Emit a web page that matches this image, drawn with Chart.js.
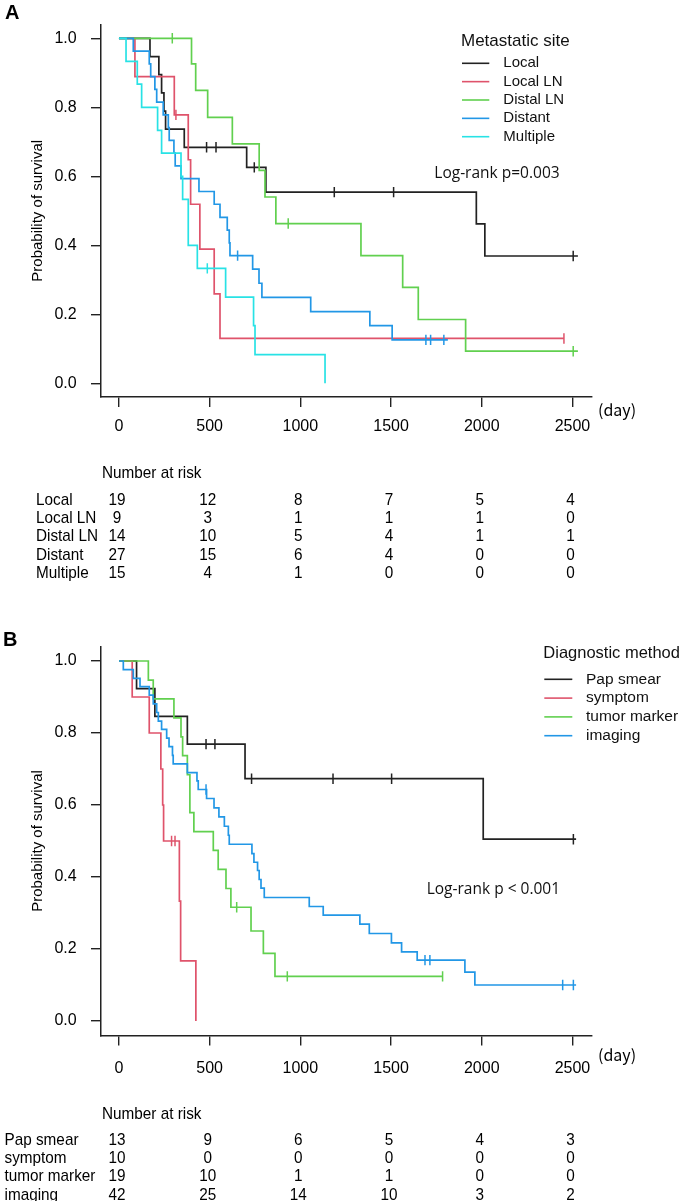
<!DOCTYPE html>
<html>
<head>
<meta charset="utf-8">
<script src="https://cdn.jsdelivr.net/npm/chart.js@4.4.0/dist/chart.umd.min.js"></script>
<style>
  html, body { margin: 0; padding: 0; background: #fff; }
  #wrap { position: relative; width: 685px; height: 1201px; overflow: hidden; }
  canvas { position: absolute; left: 0; }
  #cA { top: 0; }
  #cB { top: 600px; }
</style>
</head>
<body>
<div id="wrap">
  <canvas id="cA" width="685" height="600"></canvas>
  <canvas id="cB" width="685" height="601"></canvas>
</div>
<script>
// ---------------- DATA ----------------
const xTicks = [0, 500, 1000, 1500, 2000, 2500];
const yTicks = [0, 0.2, 0.4, 0.6, 0.8, 1.0];
const riskTimes = [0, 500, 1000, 1500, 2000, 2500];

// Panel A: Metastatic site
const groupsA = ['Local', 'Local LN', 'Distal LN', 'Distant', 'Multiple'];
const localTime   = [0, 171, 220, 235, 248, 257, 360, 704, 810, 1970, 2017, 2530];
const localSurv   = [1, 0.947, 0.895, 0.842, 0.789, 0.737, 0.684, 0.626, 0.554, 0.462, 0.369, 0.369];
const localCensor = [483, 535, 746, 1187, 1514, 2504];

const localLNTime   = [0, 88, 305, 382, 395, 446, 525, 557, 2453];
const localLNSurv   = [1, 0.889, 0.778, 0.648, 0.519, 0.389, 0.259, 0.130, 0.130];
const localLNCensor = [314, 2453];

const distalLNTime   = [0, 400, 423, 489, 625, 773, 805, 865, 1334, 1564, 1650, 1911, 2530];
const distalLNSurv   = [1, 0.926, 0.849, 0.771, 0.694, 0.617, 0.540, 0.463, 0.370, 0.278, 0.185, 0.093, 0.093];
const distalLNCensor = [294, 933, 2504];

const distantTime   = [0, 79, 167, 175, 198, 208, 244, 272, 277, 303, 310, 342, 441, 525, 557, 597, 608, 612, 737, 772, 788, 1057, 1383, 1506, 1813];
const distantSurv   = [1, 0.963, 0.926, 0.889, 0.852, 0.815, 0.778, 0.741, 0.704, 0.667, 0.630, 0.593, 0.556, 0.519, 0.481, 0.444, 0.407, 0.370, 0.331, 0.290, 0.249, 0.208, 0.167, 0.126, 0.126];
const distantCensor = [654, 1692, 1718, 1791];

const multipleTime   = [0, 39, 101, 125, 213, 235, 342, 351, 382, 432, 588, 742, 750, 1136];
const multipleSurv   = [1, 0.933, 0.867, 0.8, 0.733, 0.667, 0.6, 0.533, 0.4, 0.333, 0.25, 0.167, 0.083, 0];
const multipleCensor = [487];

const riskLocal    = [19, 12, 8, 7, 5, 4];
const riskLocalLN  = [9, 3, 1, 1, 1, 0];
const riskDistalLN = [14, 10, 5, 4, 1, 1];
const riskDistant  = [27, 15, 6, 4, 0, 0];
const riskMultiple = [15, 4, 1, 0, 0, 0];

// Panel B: Diagnostic method
const groupsB = ['Pap smear', 'symptom', 'tumor marker', 'imaging'];
const papTime   = [0, 97, 198, 377, 695, 2008, 2520];
const papSurv   = [1, 0.923, 0.846, 0.769, 0.673, 0.505, 0.505];
const papCensor = [480, 529, 731, 1180, 1503, 2505];

const symptomTime   = [0, 73, 167, 231, 241, 246, 333, 340, 424];
const symptomSurv   = [1, 0.9, 0.8, 0.7, 0.6, 0.5, 0.333, 0.167, 0];
const symptomCensor = [290, 309];

const tumorTime   = [0, 162, 189, 303, 342, 351, 377, 391, 413, 520, 547, 590, 617, 728, 796, 860, 1784];
const tumorSurv   = [1, 0.947, 0.895, 0.842, 0.789, 0.737, 0.684, 0.579, 0.526, 0.474, 0.421, 0.368, 0.316, 0.250, 0.188, 0.124, 0.124];
const tumorCensor = [649, 928, 1784];

const imagingTime = [0, 24, 79, 116, 167, 189, 208, 217, 235, 263, 276, 295, 299, 377, 430, 437, 483, 524, 551, 581, 603, 608, 733, 744, 764, 773, 783, 801, 1049, 1126, 1328, 1380, 1502, 1558, 1644, 1907, 1962, 2520];
const imagingSurv = [1, 0.976, 0.952, 0.929, 0.905, 0.881, 0.857, 0.833, 0.810, 0.786, 0.762, 0.738, 0.714, 0.690, 0.667, 0.643, 0.618, 0.592, 0.567, 0.541, 0.516, 0.491, 0.465, 0.441, 0.418, 0.393, 0.369, 0.343, 0.318, 0.294, 0.269, 0.243, 0.217, 0.192, 0.169, 0.136, 0.100, 0.100];
const imagingCensor = [480, 1687, 1714, 2446, 2505];

const riskPap     = [13, 9, 6, 5, 4, 3];
const riskSymptom = [10, 0, 0, 0, 0, 0];
const riskTumor   = [19, 10, 1, 1, 0, 0];
const riskImaging = [42, 25, 14, 10, 3, 2];

// ---------------- STYLE ----------------
const RCOL = ['#222222', '#DF536B', '#61D04F', '#2297E6', '#28E2E5'];
const SANS = "'Liberation Sans',Arial,Helvetica,sans-serif";

function survAt(times, surv, t) {
  let v = surv[0];
  for (let i = 0; i < times.length; i++) { if (times[i] <= t) v = surv[i]; }
  return v;
}

function buildDatasets(series) {
  const ds = [];
  series.forEach((s, i) => {
    ds.push({
      type: 'line',
      data: s.time.map((t, k) => ({ x: t, y: s.surv[k] })),
      borderColor: s.color, borderWidth: 1.7, pointRadius: 0,
      stepped: 'before', fill: false, order: 100 - i * 2
    });
  });
  series.forEach((s, i) => {
    ds.push({
      type: 'scatter',
      data: s.censor.map(c => ({ x: c, y: survAt(s.time, s.surv, c) })),
      borderColor: s.color, backgroundColor: s.color, borderWidth: 1.5,
      pointStyle: 'line', rotation: 90, pointRadius: 5.2, pointHoverRadius: 5.2,
      showLine: false, order: 10 - i
    });
  });
  return ds;
}

// condensed text (the reference uses a narrow sans)
function condText(ctx, str, x, y, align) {
  ctx.save();
  ctx.translate(x, y);
  ctx.scale(0.9, 1);
  ctx.textAlign = align;
  ctx.fillText(str, 0, 0);
  ctx.restore();
}

const textPlugin = {
  id: 'panelText',
  afterDraw(chart) {
    const p = chart.options.plugins.panelText;
    const ctx = chart.ctx, xs = chart.scales.x, ys = chart.scales.y;
    ctx.save();
    ctx.fillStyle = '#000';
    ctx.textBaseline = 'middle';
    // panel letter
    ctx.font = 'bold 20px ' + SANS;
    ctx.textAlign = 'left';
    ctx.fillText(p.letter, p.letterX, p.letterY);
    // y title
    ctx.save();
    ctx.translate(37.5, (ys.top + ys.bottom) / 2);
    ctx.rotate(-Math.PI / 2);
    ctx.font = '15px ' + SANS;
    ctx.textAlign = 'center';
    ctx.fillText('Probability of survival', 0, 0);
    ctx.restore();
    // (day)
    ctx.font = "16px 'Noto Sans CJK JP'," + SANS;
    ctx.textAlign = 'left';
    ctx.fillText('(day)', 598, p.dayY);
    // legend
    ctx.fillStyle = '#111';
    ctx.font = p.legTitleSize + 'px ' + SANS;
    ctx.fillText(p.legTitle, p.legX, p.legTitleY);
    ctx.font = p.legSize + 'px ' + SANS;
    p.groups.forEach((g, i) => {
      const y = p.legRowY + i * p.legRowH;
      ctx.strokeStyle = RCOL[i]; ctx.lineWidth = 1.6;
      ctx.beginPath(); ctx.moveTo(p.legX + 1, y); ctx.lineTo(p.legLineEnd, y); ctx.stroke();
      ctx.fillText(g, p.legTextX, y);
    });
    // log-rank
    ctx.font = "15.5px 'Open Sans','Noto Sans'," + SANS;
    ctx.fillStyle = '#111';
    ctx.fillText(p.logrank, p.lrX, p.lrY);
    // number at risk table
    ctx.fillStyle = '#000';
    ctx.font = '17px ' + SANS;
    condText(ctx, 'Number at risk', 102, p.tabTitleY, 'left');
    p.groups.forEach((g, i) => {
      const y = p.tabRowY + i * 18.35;
      condText(ctx, g, p.tabLabelX, y, 'left');
      p.risk[i].forEach((n, k) => {
        condText(ctx, String(n), xs.getPixelForValue(riskTimes[k]) - 2, y, 'center');
      });
    });
    ctx.restore();
  }
};

function makeChart(id, series, cfg) {
  const canvasH = cfg.canvasH;
  const top = cfg.areaTop, bottom = cfg.areaBottom;
  const xH = 40;
  return new Chart(document.getElementById(id), {
    data: { datasets: buildDatasets(series) },
    options: {
      responsive: false, animation: false, events: [],
      layout: { padding: { left: 0, right: 685 - 591.7, top: top, bottom: canvasH - bottom - xH } },
      plugins: { legend: { display: false }, tooltip: { enabled: false }, panelText: cfg.text },
      scales: {
        x: {
          type: 'linear', min: -99, max: 2606,
          afterBuildTicks: s => { s.ticks = xTicks.map(v => ({ value: v })); },
          afterFit: s => { s.height = xH; },
          grid: { drawOnChartArea: false, drawTicks: true, tickLength: 10, color: '#222', lineWidth: 1.4 },
          border: { display: true, color: '#222', width: 1.5 },
          ticks: { autoSkip: false, maxRotation: 0, padding: cfg.xPad, color: '#000',
                   font: { family: SANS, size: 16 }, callback: v => String(v) }
        },
        y: {
          type: 'linear', min: -0.04, max: 1.04,
          afterBuildTicks: s => { s.ticks = yTicks.map(v => ({ value: v })); },
          afterFit: s => { s.width = 101; },
          grid: { drawOnChartArea: false, drawTicks: true, tickLength: 10, color: '#222', lineWidth: 1.4 },
          border: { display: true, color: '#222', width: 1.5 },
          ticks: { autoSkip: false, padding: 14.3, color: '#000',
                   font: { family: SANS, size: 16 }, callback: v => Number(v).toFixed(1) }
        }
      }
    },
    plugins: [textPlugin]
  });
}

const seriesA = [
  { time: localTime, surv: localSurv, censor: localCensor, color: RCOL[0] },
  { time: localLNTime, surv: localLNSurv, censor: localLNCensor, color: RCOL[1] },
  { time: distalLNTime, surv: distalLNSurv, censor: distalLNCensor, color: RCOL[2] },
  { time: distantTime, surv: distantSurv, censor: distantCensor, color: RCOL[3] },
  { time: multipleTime, surv: multipleSurv, censor: multipleCensor, color: RCOL[4] }
];
const seriesB = [
  { time: papTime, surv: papSurv, censor: papCensor, color: RCOL[0] },
  { time: symptomTime, surv: symptomSurv, censor: symptomCensor, color: RCOL[1] },
  { time: tumorTime, surv: tumorSurv, censor: tumorCensor, color: RCOL[2] },
  { time: imagingTime, surv: imagingSurv, censor: imagingCensor, color: RCOL[3] }
];

makeChart('cA', seriesA, {
  canvasH: 600, areaTop: 24.5, areaBottom: 397.1, xPad: 10.2,
  text: {
    letter: 'A', letterX: 5, letterY: 13, dayY: 410,
    legTitle: 'Metastatic site', legTitleSize: 17, legSize: 15,
    legX: 461, legTitleY: 41, legRowY: 63.3, legRowH: 18.35, legLineEnd: 489.3, legTextX: 503.3,
    groups: groupsA, logrank: 'Log-rank p=0.003', lrX: 434.3, lrY: 174,
    tabTitleY: 473.3, tabRowY: 500, tabLabelX: 36,
    risk: [riskLocal, riskLocalLN, riskDistalLN, riskDistant, riskMultiple]
  }
});

makeChart('cB', seriesB, {
  canvasH: 601, areaTop: 46.6, areaBottom: 435.4, xPad: 13.2,
  text: {
    letter: 'B', letterX: 3, letterY: 40, dayY: 455,
    legTitle: 'Diagnostic method', legTitleSize: 16.5, legSize: 15.5,
    legX: 543.3, legTitleY: 53.3, legRowY: 79.3, legRowH: 18.8, legLineEnd: 572.3, legTextX: 586,
    groups: groupsB, logrank: 'Log-rank p < 0.001', lrX: 426.7, lrY: 289.3,
    tabTitleY: 514, tabRowY: 540, tabLabelX: 4.5,
    risk: [riskPap, riskSymptom, riskTumor, riskImaging]
  }
});
</script>
</body>
</html>
